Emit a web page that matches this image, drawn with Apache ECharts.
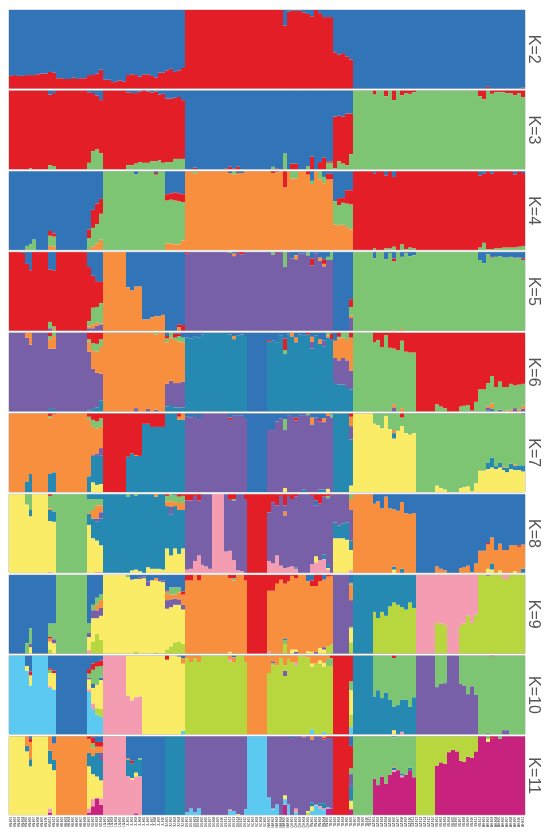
<!DOCTYPE html>
<html><head><meta charset="utf-8">
<style>html,body{margin:0;padding:0;background:#fff}#c{width:550px;height:839px}</style>
<script src="https://cdn.jsdelivr.net/npm/echarts@6/dist/echarts.min.js"></script>
</head><body><div id="c"></div>
<script>
const B='#3274b8',R='#e31e26',G='#7dc572',O='#f78f3f',P='#7860a8',T='#2689b1',Y='#faec66',K='#f49cb1',L='#b8d63d',S='#5ccaf0',M='#c8227f';
const barCount=132;
// Each run: [bars, cluster, topOfSegment, cluster, topOfSegment, ..., lastCluster]; the last cluster reaches 100.
const v=(a,b,tops)=>tops.map(t=>[1,a,t,b]);
const k2=[...v(R,B,[16,17,16,16,17,17,17,18,19,19,21,20,13,13,12,12,14,12,13,13,17,17,19,24,11,11,8,9,10,9,17,18,17,15,18,18,16,14,20,20,23,25,21,23,26]),[25,R],
...v(R,B,[80,98,99,99,99,97,95,92,100,96,91,91,91,46,43,45,41,37]),[34,B],[1,R,2,B],[8,B],[1,R,1,B]];
const k3=[[5,R],[1,G,1,R],[4,R],[1,G,5,R,95,B],[1,G,4,R,97,B],[8,R],[1,G,8,R,98,B],[1,G,23,R,97,B],[1,G,25,R,94,B],[1,G,20,R,88,B],[6,R],
[1,G,5,R,98,B],[1,G,5,R,97,B],[1,G,7,R,97,B],[1,G,9,R,99,B],[1,G,8,R],[1,G,8,R,99,B],[1,G,10,R,98,B],[1,G,10,R,99,B],[1,G,11,R,95,B],[1,G,8,R,96,B],[2,G,9,R,90,B],[1,G,13,R,91,B],[1,G,13,R,92,B],[1,G,13,R,88,B],
[2,B],[1,R,2,B],[7,B],[1,R,1,B],[1,R,3,B],[1,R,1,B],[1,R,3,B],[8,B],[1,G,3,B],
[1,R,1,B],[1,B],[1,G,20,B],[1,B],[2,R,7,B],[2,B],[1,G,4,B],[1,R,16,B],[1,B],[1,R,9,B],[1,R,15,B],[2,G,8,R,10,B],[1,G,1,R,67,B],[1,G,10,R,68,B],[1,G,7,R,67,B],[1,G,5,R,71,B],[1,G,19,R,71,B],
[5,G],[1,G,95,R],[2,G],[1,G,93,R],[1,G],[1,G,88,R],[1,G],[1,G,94,R],[1,G,97,R],[1,G,96,R],[1,G,98,R],[16,G],[1,G,93,R],[1,G,89,R],[1,G],[1,G,96,R],[3,G,98,R],[2,G,97,R],[1,G,94,R],[1,G,97,R],[1,G,92,R]];
const k4=[[4,B],[1,G,5,B],[1,G,7,B],[1,G,13,B],[3,B],[1,O,5,G,18,R,24,B],[1,O,4,G,17,R,21,B],[8,B],
[1,O,1,G,15,R,26,B],[1,O,4,G,28,R,51,B],[1,O,8,G,33,R,59,B],[1,O,13,G,46,R,65,B],
[8,G],[1,G,96,B],[4,G],[1,G,96,R,98,B],[2,G],[1,O,8,G,63,R,71,B],[1,O,8,G,64,R,72,B],[1,O,7,G,63,R,73,B],[1,O,7,G,62,R,72,B],[1,O,12,G,61,R,71,B],
[2,O],[1,O,97,G],[8,O],[1,O,98,B],[1,O,96,G],[2,O,98,B],[7,O],[1,O,98,R],
[1,O,99,B],[1,O],[1,O,80,R],[1,O],[2,O,91,G],[2,O],[1,O,96,R],[1,O,84,G,88,B],[1,O],[1,O,90,G],[1,O,85,G,93,B],[2,O,90,R,97,B],
[1,O,32,G,62,B],[1,O,31,G,57,R,66,B],[1,O,32,G,60,R,66,B],[1,O,29,G,59,R,76,B],[1,O,26,G,58,R,76,B],
[5,R],[1,G,2,R,97,B],[2,R],[1,G,2,R,95,B],[1,G,2,R],[1,G,4,R,93,B],[1,R],[1,G,7,R],[1,G,1,R],[1,G,3,R],[1,G,2,R],[16,R],
[1,G,3,R,95,B],[1,G,9,R,97,B],[1,G,1,R],[1,G,1,R,97,B],[2,G,2,R],[3,G,3,R],[1,G,3,R,96,B],[1,G,4,R],[1,G,5,R,98,B]];
const k5=[[3,R],[1,R,99,B],[1,R,85,B],[1,R,77,B],[4,R],[1,P,3,G,11,R,78,B],[1,O,2,G,5,R,77,B],[8,R],
[1,P,3,O,5,G,12,R,81,B],[1,P,3,O,8,G,29,R,70,B],[1,P,6,O,10,G,30,R,63,B],[1,P,8,O,9,G,35,R,62,B],
[6,O],[1,O,55,B],[1,O,51,B],[1,O,56,B],[1,O,56,B],[2,O,14,B],[1,O,17,B],[2,O,18,B],[1,O,20,B],[3,B],[1,O,4,R,8,B],[1,R,7,B],
[1,P,98,R],[10,P],[1,P,99,G],[1,P,95,O,98,B],[1,P,99,R],[1,P,97,R],[7,P],[1,P,97,G],
[1,P,99,R],[1,P],[1,P,81,G],[1,P],[1,P,92,B],[1,P,91,O,96,B],[2,P,98,B],[1,P,96,G],[1,P,83,R,92,B],[1,P,98,B],[1,P,89,O,93,B],[1,P,82,O,85,R,91,B],[1,P,90,G,94,B],[1,P,90,G],
[4,B],[1,P,16,O,19,G,30,R,40,B],
[5,G],[1,G,92,B],[2,G],[1,G,91,B],[1,G,99,B],[1,O,1,G,88,R,92,B],[1,G],[1,O,2,G,94,B],[1,G,99,B],[1,G,95,B],[1,G,96,B],[16,G],
[1,G,90,B],[1,G,86,B],[1,G,97,B],[1,G,93,R,94,B],[1,G,94,B],[1,G,95,B],[2,G,93,B],[1,G,94,B],[1,G,92,R,93,B],[1,G,93,B],[1,G,90,R,92,B]];
const k6=[[4,P],[1,P,94,O],[1,P,85,O],[4,P],[1,T,3,P,80,O,92,G,96,R],[1,T,3,P,80,O,96,G],[8,P],
[1,T,1,P,76,O,89,G,92,R],[1,T,3,P,54,O,78,G,87,R],[1,T,5,P,49,O,76,G,86,R],[1,T,14,P,48,O,82,G,92,R],
[8,O],[1,P,4,O],[2,O],[1,P,3,O],[1,O],[1,P,2,O,98,G],[2,O],
[1,T,6,P,35,O,88,G,93,R,96,B],[1,T,8,P,39,O,94,G],[1,T,5,P,36,O,91,G,94,R,99,B],[1,T,5,P,36,O,89,G,96,R,99,B],[1,T,5,P,38,O,88,G,94,B],
[1,T,94,B],[1,T,93,B],[1,T,95,B],[1,T,94,B],[1,T,98,B],[6,T],[1,T,98,B],[1,T,92,O,96,B],[1,T,97,B],[1,T,98,B],[1,T,96,B],[5,B],[1,T,89,R,91,B],[1,T,90,B],
[1,T,88,B],[1,T,97,B],[1,T,73,G,78,R,93,B],[1,T,98,B],[1,T,95,O],[1,T,88,O,94,B],[1,T,98,B],[1,T,97,B],[1,T,98,R],[1,T,80,P,89,O,95,B],[1,T,97,B],[1,T,86,O,92,B],[1,T,83,P,90,B],[1,T,94,O,97,G],[1,T,92,R,99,B],
[1,T,36,P,68,O,90,B],[1,T,34,P,65,O,93,G,95,R],[1,T,34,P,68,O,94,G],[1,T,31,P,65,O,91,G],[1,T,28,P,52,O,94,R],
[5,G],[1,G,88,R],[1,G,91,R],[1,G,82,R],[1,G,97,R],[1,G,81,R],[1,P,5,O,9,G,80,R],[1,G,78,R],[1,O,4,G,90,R],[1,G,76,R],[2,G,75,R],
[5,R],[1,G,9,R],[1,G,6,R],[1,G,4,R],[3,R],[1,G,6,R],[1,G,7,R],[1,G,8,R],[1,G,1,R],[1,G,12,R],
[2,G,28,R],[1,T,1,P,5,O,7,G,36,R],[1,T,3,O,10,G,45,R],[1,G,31,R],[1,P,2,G,38,R],[1,G,31,R],[1,O,1,G,31,R],[1,O,2,G,35,R],[1,P,4,G,33,R],[1,O,2,G,34,R],[1,P,3,O,7,G,35,R]];
const k7=[[4,O],[1,T,13,O],[1,T,23,O],[4,O],[1,T,23,O,95,G,97,R],[1,T,25,O,99,R],[8,O],
[1,T,20,O,92,G,96,R],[1,Y,12,T,46,P,47,O,83,G,92,R],[1,Y,9,T,46,P,49,O,81,G,90,R],[1,Y,10,T,47,P,56,O,83,G,94,R],
[6,R],[1,T,45,R],[1,T,49,R],[1,T,46,O,47,R],[1,T,46,R],[2,T,87,R],[4,T,83,R],[3,T],[1,T,92,O,96,R],[1,T,92,O],
[1,P,96,B],[1,P,95,B],[1,P,97,B],[1,P,93,B],[7,P],[1,P,92,R,95,B],[3,P,98,B],[1,P,93,B],[5,B],[2,P,79,B],
[1,P,90,B],[1,P,94,B],[1,Y,5,P,79,G,93,B],[1,P,98,B],[1,P,97,B],[1,P,91,R,95,B],[1,P,98,B],[1,T,3,P,98,B],[1,P,98,G],[1,P,86,O,95,B],[1,P,95,B],[1,T,3,P,90,R,93,B],[1,T,3,P,89,O,94,B],[1,Y,4,P,97,O],[1,P,95,G,99,B],
[4,T],[1,Y,8,T,67,P,84,O,96,R],
[5,Y],...v(Y,G,[87,85,81,97,80]),[1,Y,68,T,75,O,79,G],[1,Y,78,G],[1,Y,84,G,95,R],[1,Y,75,G],[1,Y,73,G],[1,Y,75,G],
[5,G],[1,Y,8,G],[1,Y,5,G],[1,Y,3,G],[3,G],[1,Y,5,G],[1,Y,6,G],[1,Y,7,G],[1,Y,1,G],[1,Y,11,G],
[2,Y,27,G],[1,Y,29,T,37,G],[1,Y,31,T,44,G],[1,Y,29,T,33,G],[1,Y,31,T,37,G],[1,Y,28,T,31,O,33,G],[1,Y,25,T,31,G],[1,Y,29,T,36,G],[1,Y,28,T,33,O,35,G],[1,Y,28,T,34,G],[1,Y,26,T,34,G,99,B]];
const k8=[[4,Y],[1,Y,87,G],[1,Y,72,T,80,G],[4,Y],[1,K,1,Y,66,T,80,O,82,G,98,R],[1,Y,65,T,78,G],[8,G],
[1,Y,61,T,75,O,76,G,94,T],[1,Y,44,T,69,O,80,G,94,T],[1,K,1,Y,41,T,65,P,69,O,86,G,94,T],[1,K,1,Y,35,T,69,P,77,O,86,G,94,T],
[6,T],[1,T,97,G],[1,Y,3,T],[1,Y,4,T,98,G],[1,Y,2,T],[1,T],[1,Y,7,T],[1,Y,5,T],[1,Y,5,T,97,O],[1,Y,5,T],[1,Y,4,T],
[1,Y,31,T,85,O,91,G,98,R],[1,Y,22,T,74,P,84,O,91,G],[1,Y,31,T,85,O,90,G,99,B],[1,Y,24,T,80,O,89,G,97,R],[1,Y,31,T,80,O,89,G,98,R],
[1,K,4,P,92,R],[1,K,5,P,92,R],[1,K,15,P,98,R],[1,K,22,P,92,R],[1,K,10,P],[1,K,8,P],[1,K,5,P],[3,K],[1,K,27,P],[1,K,28,P,93,R],[1,K,16,P,92,G,94,R],[1,K,3,P],[1,K,2,P],[1,P,94,R],[5,R],[1,K,15,P,77,R],[1,K,12,P,90,R],
[1,K,22,P,86,R],[1,K,9,P,98,R],[1,K,6,P,73,O,78,P,86,R],[1,K,7,P,98,R],[1,K,8,P,94,R],[1,K,5,T,7,P,97,R],[3,P],[1,K,11,P,98,R],[1,K,13,Y,21,P,86,B,92,R],[1,K,16,P,88,R],[1,K,17,T,23,P,97,R],[1,K,4,Y,6,T,11,P,95,G,98,R],[1,P,99,R],
[1,Y,44,T,64,P],[1,Y,44,T,60,P],[1,Y,44,T,63,P],[1,Y,42,T,64,P],[1,K,3,Y,29,T,41,P,80,O,94,G],
[5,O],...v(O,B,[88,91,82,97,82]),[1,Y,4,T,8,O,81,B],[1,O,79,B],[1,T,5,O,90,B],...v(O,B,[76,75,76]),
[5,B],[1,O,8,B],[1,O,5,B],[1,O,3,B],[3,B],[1,O,6,B],[1,O,7,B],[1,O,9,B],[1,O,1,B],[1,O,12,B],
[2,O,28,B],[1,Y,5,O,36,R,38,B],[1,Y,4,T,12,O,45,B],[1,O,29,B],[1,Y,3,O,37,B],[2,O,29,B],[1,O,35,B],[1,Y,2,O,35,B],[1,O,33,R,35,B],[1,T,5,O,36,B]];
const k9=[[4,B],[1,G,13,B],[1,Y,8,P,12,G,32,B],[4,B],[1,L,5,Y,15,O,19,R,21,G,38,B],[1,Y,13,P,18,G,38,B],[8,G],
[1,K,4,Y,21,P,26,G,38,B],[1,L,15,Y,45,P,55,G,62,B],[1,L,25,Y,45,P,55,O,62,G,71,B],[1,L,17,Y,48,P,58,O,68,G,75,B],
[6,Y],[1,Y,97,G],[1,Y,94,B],[1,L,2,Y,95,B],[1,Y,95,P,97,B],[1,Y,96,P,98,B],[1,Y,86,P,92,B],[1,Y,93,B],[1,L,1,Y,93,O,96,B],[1,Y,92,P,95,B],[1,Y,91,P,93,B],
[1,L,5,Y,57,P,68,O,77,G,79,R,80,B],[1,L,9,Y,59,P,69,O,75,G,84,B],[1,L,14,Y,62,P,70,O,75,G,84,B],[1,L,15,Y,62,P,69,O,78,G,84,B],[1,L,12,Y,56,P,62,O,75,R,79,B],
[2,O,93,R],[1,O],[1,O,93,R],[7,O],[1,Y,2,O,96,R],[1,O,93,G,96,R],[2,O],[1,O,93,R],[5,R],[1,K,3,O,80,R],[1,O,80,R],
[1,O,89,R],[1,O,94,R],[1,L,12,G,17,T,19,O,89,R],[1,O,92,R],[1,Y,5,O,99,R],[1,P,2,Y,5,O,96,R],[2,O],[1,Y,3,O,92,B],[1,Y,2,O,86,R,93,B],[1,P,2,O,86,R],[1,Y,7,O,92,R],[1,Y,5,P,8,O,94,B],[1,L,9,O,98,R],[1,L,12,O,99,R],
[4,P],[1,L,14,Y,32,G,34,P,68,O,88,G,90,B],
[5,T],...v(L,T,[53,45,53,48,60,65,62,59,56,65,58]),[5,K],...v(L,K,[39,38,36]),[3,K],...v(L,K,[35,38,48,39,50]),
[2,L],[1,L,99,P],[3,L],[2,L,95,K],[4,L]];
const k10=[[4,S],[1,S,81,Y,87,B],[1,S,62,Y,75,R,80,B],[4,S],[1,S,59,K,61,Y,78,G,82,R,84,B],[1,S,57,Y,78,R,81,B],[8,B],
[1,S,54,K,57,Y,70,P,72,G,77,R,83,B],[1,S,32,K,39,Y,59,B,64,G,82,R,90,B],[1,S,25,L,33,Y,63,G,86,R,92,B],[1,S,22,L,32,Y,69,B,72,G,87,R,94,B],
[6,K],...v(K,Y,[49,43,47,48]),[6,Y],[1,Y,95,R],[2,Y],[1,Y,99,B],[1,S,4,Y,90,O,97,B],
[1,L,97,O],[1,L,92,O],[1,L,97,O],[1,L,92,O],[7,L],[1,L,93,K,96,O],[1,L,92,O,98,B],[2,L],[1,L,92,O],[5,O],[1,L,78,O],[1,L,90,P,93,O],
[1,L,88,O],[1,L,97,O],[1,L,74,P,81,L,88,O],[1,L,96,O],[1,L,92,O],[1,L,88,K,92,O],[1,L],[1,L,99,O],[1,L,98,O],[1,S,6,L,86,Y,90,O],[1,L,90,O],[1,L,90,Y,94,O],[1,S,3,L,86,Y,91,O],[1,L,87,G,96,O],[1,L,87,G,97,R],
[4,R],[1,S,9,L,25,Y,56,G,67,R],
[5,T],...v(T,G,[48,56,46,53,44]),[1,Y,5,T,35,G,97,R],[1,T,37,G],[1,K,3,T,44,G],[1,T,44,G],[1,T,35,G],[1,T,47,G],
[5,P],...v(P,G,[60,64,65]),[3,P],...v(P,G,[64,62,51,61,50]),
[2,G],[1,P,1,G],[1,G,99,R],[2,G],[2,P,5,G],[4,G]];
const k11=[[4,Y],[1,Y,81,T,88,O],[1,Y,62,T,71,O,93,R,97,B],[4,Y],[1,M,3,K,8,Y,65,T,82,O],[1,Y,57,T,70,O,91,B],[8,O],
[1,M,3,K,8,Y,62,T,79,O,97,R],[1,M,11,K,20,Y,52,T,75,O,85,G,91,R,99,B],[1,M,21,Y,49,T,79,O,87,R,93,B],[1,M,13,K,21,Y,44,T,70,P,79,O,87,R,93,B],
[6,K],[1,K,49,T,70,O,72,B],[1,K,45,Y,47,T,66,R,69,B],[1,M,2,K,49,Y,54,T,70,B],[1,K,49,T,70,G,72,B],[6,B],[5,T],
[1,S,3,P],[1,S,8,P],[1,S,3,P],[1,S,8,P],[7,P],[1,S,5,K,7,P],[1,S,5,P],[1,Y,1,P],[1,P],[1,S,7,P],[5,S],[1,S,22,P],[1,S,7,Y,8,P],
[1,S,13,P],[1,P],[1,M,13,S,20,Y,25,P],[1,S,13,P],[1,P,98,B],[1,S,3,K,8,P],[1,P],[1,P,99,O],[1,L,3,Y,5,P],[1,S,5,Y,11,T,16,P,96,O],[1,S,12,K,13,P],[1,S,8,K,11,T,15,P],[1,S,6,K,8,T,15,P,96,R,98,O],[1,M,8,S,10,P,98,R],[1,M,8,P,98,R],
[4,R],[1,M,7,Y,18,T,37,P,52,G,59,R,88,B],
[5,G],...v(M,G,[46,38,49,40,51]),[1,M,55,K,57,B,60,O,61,G,99,B],[1,M,57,G],[1,M,48,K,50,T,53,G],[1,M,51,G],[1,M,57,T,60,G],[1,M,48,G],
[5,L],...v(M,L,[63,67,65,80,83,81,69,68,74,73,81]),
[2,M],[1,M,93,Y,97,G],[1,M,97,R],[1,M],[1,M,97,G],[6,M]];
const panelNames=['K=2','K=3','K=4','K=5','K=6','K=7','K=8','K=9','K=10','K=11'];
const panelRuns=[k2,k3,k4,k5,k6,k7,k8,k9,k10,k11];
const sampleGroups=[['HN-',12],['HB-',8],['SD-',4],['LN-',6],['JL-',10],['XJ-',5],['GS-',16],['SC-',5],['NM-',6],['QH-',5],['YN-',5],['TB-',11],['GZ-',16],['SX-',12],['AH-',11]];
const sampleLabels=sampleGroups.flatMap(([p,n])=>Array.from({length:n},(_,i)=>p+String(i+1).padStart(3,'0')));
const panelTop=i=>10+i*80.72, panelH=78.4;
const grids=[],xAxes=[],yAxes=[],series=[];
const renderSegment=(params,api)=>{
  const a=api.coord([api.value(0),api.value(1)]),b=api.coord([api.value(0),api.value(2)]);
  const band=api.size([1,0])[0];
  const x0=Math.round(a[0]-band/2),x1=Math.round(a[0]+band/2);
  return {type:'rect',shape:{x:x0,y:b[1],width:x1-x0,height:a[1]-b[1]},style:{fill:api.visual('color')}};
};
panelRuns.forEach((runs,pi)=>{
  const byCluster=new Map();let idx=0;
  runs.forEach(run=>{
    for(let n=0;n<run[0];n++,idx++){let prev=0;
      for(let j=1;j<run.length;j+=2){const top=j+1<run.length?run[j+1]:100;
        if(top>prev){if(!byCluster.has(run[j]))byCluster.set(run[j],[]);byCluster.get(run[j]).push([idx,prev,top]);prev=top;}}
    }});
  if(idx!==barCount)throw new Error(panelNames[pi]+' has '+idx+' bars');
  grids.push({left:9,width:516,top:panelTop(pi),height:panelH,show:true,borderColor:'#b9b9b9',borderWidth:1,backgroundColor:'transparent',outerBoundsMode:'none',containLabel:false});
  const last=pi===panelRuns.length-1;
  xAxes.push({gridIndex:pi,type:'category',data:sampleLabels,axisLine:{show:false},axisTick:{show:false},
    axisLabel:last?{show:true,interval:0,rotate:90,fontSize:3,color:'#111',margin:2,fontFamily:'Liberation Sans',hideOverlap:false}:{show:false}});
  yAxes.push({gridIndex:pi,type:'value',min:0,max:100,position:'right',axisLine:{show:false},axisTick:{show:false},axisLabel:{show:false},splitLine:{show:false},
    name:panelNames[pi],nameLocation:'middle',nameRotate:-90,nameGap:0,nameTextStyle:{fontSize:16,color:'#555',fontFamily:'Liberation Sans'}});
  byCluster.forEach((data,color)=>{
    series.push({type:'custom',name:panelNames[pi]+' '+color,xAxisIndex:pi,yAxisIndex:pi,silent:true,clip:false,
      itemStyle:{color},encode:{x:0,y:[1,2]},renderItem:renderSegment,data});
  });
});
const chart=echarts.init(document.getElementById('c'),null,{renderer:'canvas'});
chart.setOption({animation:false,backgroundColor:'#fff',grid:grids,xAxis:xAxes,yAxis:yAxes,series});
</script></body></html>
